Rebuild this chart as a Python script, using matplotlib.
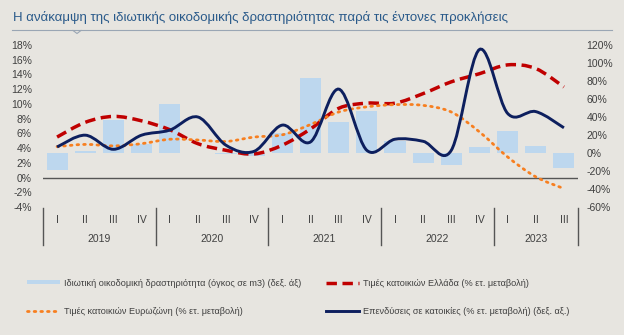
import numpy as np
import matplotlib
matplotlib.use("Agg")
import matplotlib.pyplot as plt
from matplotlib.path import Path
from matplotlib.patches import PathPatch
from matplotlib.lines import Line2D
from matplotlib.patches import Patch
import matplotlib.transforms as mtransforms

plt.rcParams['font.family'] = ['Liberation Sans', 'DejaVu Sans']

# quarters 2019Q1 .. 2023Q3
quarters = ['I', 'II', 'III', 'IV'] * 4 + ['I', 'II', 'III']
years = ['2019', '2020', '2021', '2022', '2023']

# private building activity, volume in m3 (% y/y, right axis)
building = [-19, 2, 37, 10.5, 55, 0.5, -1, -3.5, 22, 83, 35, 47, 13, -11, -13, 7, 25, 8, -17]
# house prices Greece (% y/y, left axis)
prices_gr = [5.5, 7.5, 8.3, 7.7, 6.5, 4.6, 3.7, 3.2, 4.4, 6.6, 9.4, 10.1, 10.1, 11.4, 13.0, 14.1, 15.3, 14.8, 12.3]
# house prices euro area (% y/y, left axis), ends 2023Q2
prices_ez = [4.2, 4.5, 4.3, 4.6, 5.2, 5.1, 4.9, 5.5, 5.8, 7.2, 8.9, 9.6, 9.9, 9.8, 8.9, 6.2, 2.8, 0.1, -1.5]
# residential investment (% y/y, right axis)
investment = [6.7, 19.8, 4.1, 19.8, 25.4, 40, 8.6, 1.9, 31, 12.3, 71, 3, 15.3, 13, 3, 115, 44, 46, 28]

labels = ['Ιδιωτική οικοδομική δραστηριότητα (όγκος σε m3) (δεξ. άξ)',
          'Τιμές κατοικιών Ευρωζώνη (% ετ. μεταβολή)',
          'Τιμές κατοικιών Ελλάδα (% ετ. μεταβολή)',
          'Επενδύσεις σε κατοικίες (% ετ. μεταβολή) (δεξ. αξ.)']

bg = '#e7e5e0'
txt = '#404040'
red_dash = (0, (3.0, 1.6))
orange_dot = (0, (0.6, 1.8))


def smooth_path(xs, ys):
    # cubic bezier through the points (like a smoothed excel line)
    pts = np.column_stack([xs, ys]).astype(float)
    n = len(pts)
    verts = [pts[0]]
    codes = [Path.MOVETO]
    for i in range(n - 1):
        p0 = pts[max(i - 1, 0)]
        p1 = pts[i]
        p2 = pts[i + 1]
        p3 = pts[min(i + 2, n - 1)]
        c1 = p1 + (p2 - p0) / 6.0
        c2 = p2 - (p3 - p1) / 6.0
        verts += [c1, c2, p2]
        codes += [Path.CURVE4] * 3
    return Path(verts, codes)


def add_smooth(ax, ys, **kw):
    xs = np.arange(len(ys))
    patch = PathPatch(smooth_path(xs, ys), fill=False, **kw)
    ax.add_patch(patch)
    return patch


fig = plt.figure(figsize=(6.24, 3.35), dpi=100, facecolor=bg)
ax = fig.add_axes([43 / 624, 1 - 207 / 335, 535 / 624, 162 / 335])
ax.set_facecolor('none')
ax2 = ax.twinx()
ax3 = ax.twinx()

x = np.arange(len(quarters))

# bars, right scale
ax.bar(x, building, width=0.75, color='#bdd7ee', zorder=1)
ax.set_ylim(-60, 120)
ax.set_yticks(np.arange(-60, 121, 20))
ax.set_yticklabels([f'{v}%' for v in range(-60, 121, 20)])
ax.yaxis.tick_right()
ax.tick_params(axis='y', length=0, pad=6, labelsize=7.5, labelcolor=txt)

# greek / euro area house prices, left scale
ax2.set_ylim(-4, 18)
ax2.yaxis.tick_left()
ax2.set_yticks(np.arange(-4, 19, 2))
ax2.set_yticklabels([f'{v}%' for v in range(-4, 19, 2)])
ax2.tick_params(axis='y', length=0, pad=8, labelsize=7.5, labelcolor=txt)
ax2.axhline(0, color='#555555', lw=1.0, zorder=1)
add_smooth(ax2, prices_gr, edgecolor='#c00000', lw=2.5, linestyle=red_dash, zorder=3)
add_smooth(ax2, prices_ez, edgecolor='#f77f20', lw=2.0, linestyle=orange_dot,
           capstyle='round', zorder=3)

# investment, right scale
ax3.set_ylim(-60, 120)
ax3.set_yticks([])
add_smooth(ax3, investment, edgecolor='#0d1f5e', lw=2.1, zorder=4)

for a in (ax, ax2, ax3):
    a.set_xlim(-0.5, len(quarters) - 0.5)
    for s in a.spines.values():
        s.set_visible(False)

ax.set_xticks([])
trans = mtransforms.blended_transform_factory(ax.transData, ax.transAxes)
for i, q in enumerate(quarters):
    ax.text(i, -0.08, q, transform=trans, ha='center', va='center', fontsize=7.5, color=txt)
starts = [0, 4, 8, 12, 16]
ends = [4, 8, 12, 16, 19]
for yr, s, e in zip(years, starts, ends):
    ax.text((s + e - 1) / 2, -0.198, yr, transform=trans, ha='center', va='center',
            fontsize=7.5, color=txt)
for b in [-0.5, 3.5, 7.5, 11.5, 15.5, 18.5]:
    ax.plot([b, b], [-0.006, -0.235], transform=trans, color='#555555', lw=1.0, clip_on=False)

# title
fig.text(13 / 624, 1 - 18 / 335, 'Η ανάκαμψη της ιδιωτικής οικοδομικής δραστηριότητας παρά τις έντονες προκλήσεις',
         fontsize=9.5, color='#2a5a8a', va='center', ha='left')
fig.add_artist(Line2D([12 / 624, 612 / 624], [1 - 30 / 335, 1 - 30 / 335], color='#9aa6b4', lw=0.8))
fig.add_artist(Line2D([73 / 624, 77 / 624, 81 / 624], [1 - 30.5 / 335, 1 - 33.5 / 335, 1 - 30.5 / 335],
                      color='#9aa6b4', lw=0.8))

handles = [Patch(facecolor='#bdd7ee'),
           Line2D([], [], color='#f77f20', lw=2.0, linestyle=orange_dot, dash_capstyle='round'),
           Line2D([], [], color='#c00000', lw=2.5, linestyle=red_dash),
           Line2D([], [], color='#0d1f5e', lw=2.1)]
leg = fig.legend(handles, labels, ncol=2, loc='upper left', bbox_to_anchor=(23.5 / 624, 1 - 275 / 335),
                 frameon=False, fontsize=6.6, handlelength=3.6, handleheight=0.3, handletextpad=0.45,
                 labelspacing=2.1, columnspacing=2.7, borderaxespad=0)
for t in leg.get_texts():
    t.set_color(txt)

fig.savefig('out.png', dpi=100, facecolor=bg)
